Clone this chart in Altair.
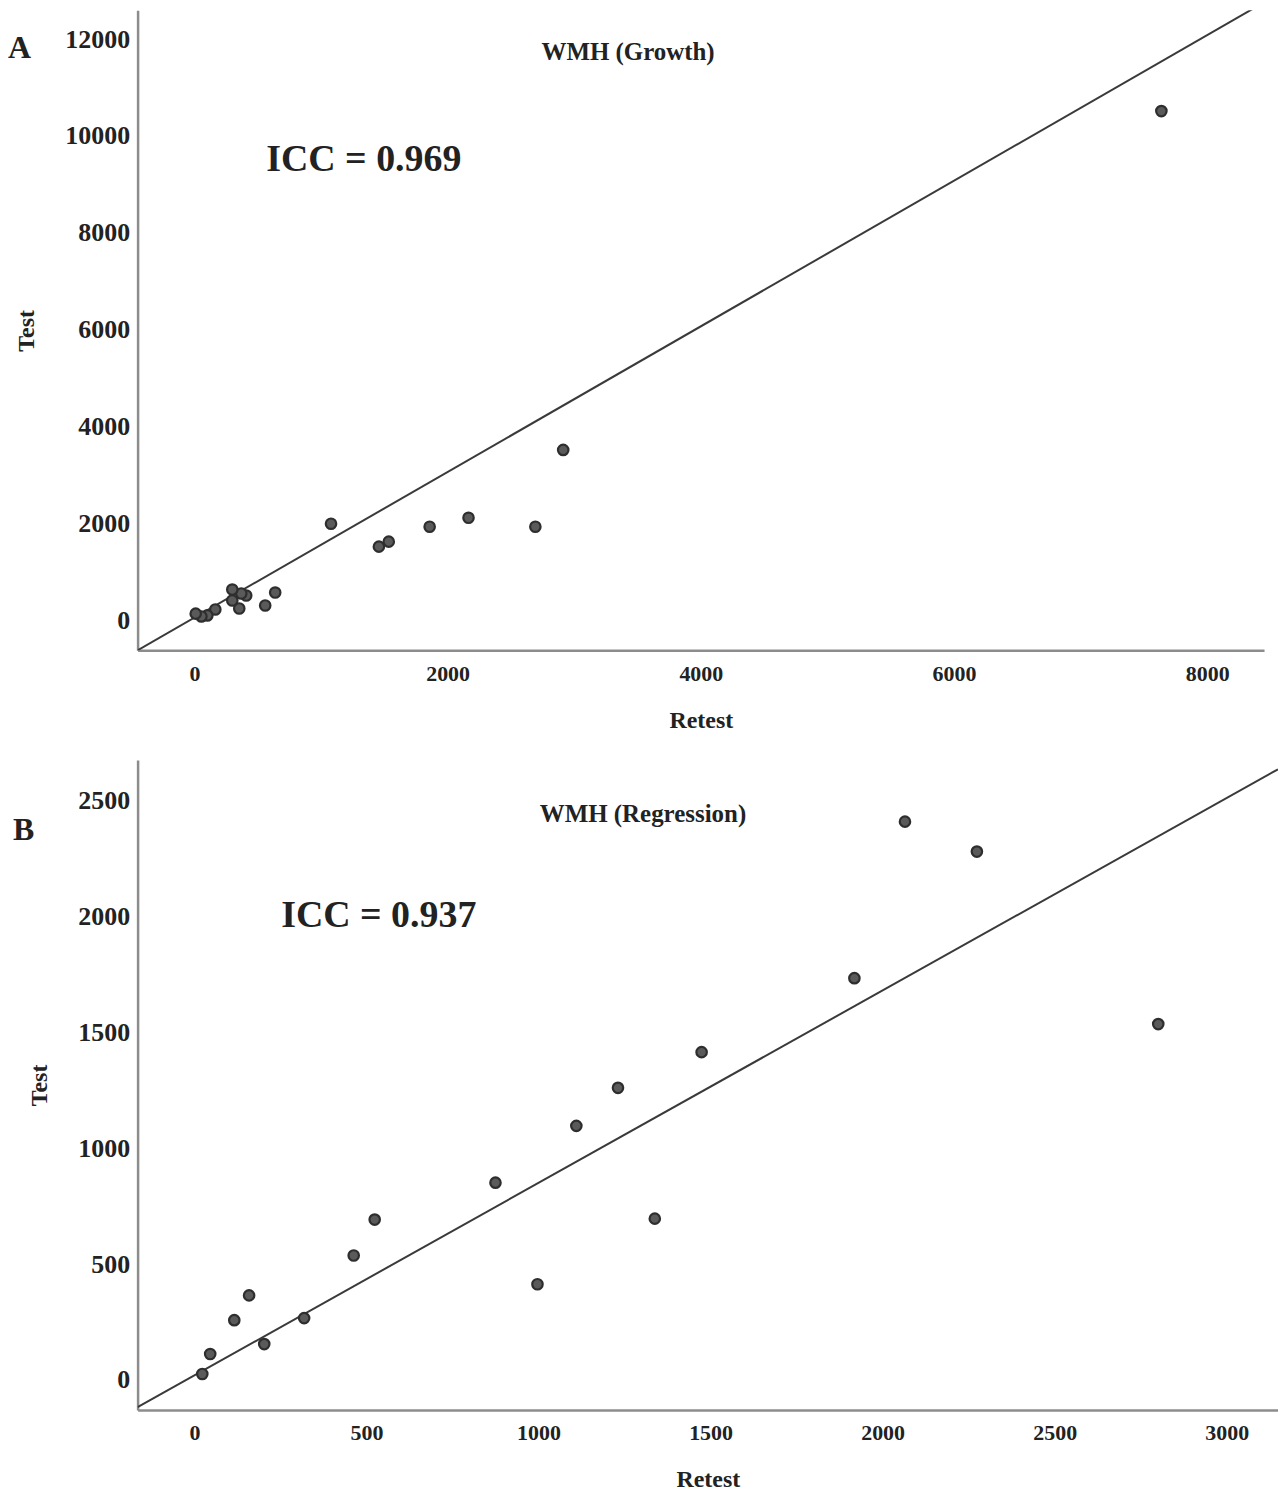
import altair as alt
import pandas as pd

# Panel A: WMH (Growth)
a_retest = [7638, 2913, 2693, 2165, 1858, 1535, 1457, 1079, 638, 559, 409, 370, 354, 299, 299, 165, 102, 55, 10]
a_test = [10514, 3519, 1934, 2119, 1934, 1626, 1523, 1996, 576, 309, 514, 556, 247, 638, 412, 226, 103, 82, 140]
a_line_x = [-449, 8449]
a_line_y = [-617, 12757]
a_xticks = [0, 2000, 4000, 6000, 8000]
a_yticks = [0, 2000, 4000, 6000, 8000, 10000, 12000]

# Panel B: WMH (Regression)
b_retest = [2065, 2274, 1918, 2801, 1474, 1231, 1110, 875, 524, 1338, 463, 997, 159, 116, 319, 203, 46, 23]
b_test = [2408, 2279, 1733, 1535, 1414, 1260, 1096, 851, 692, 696, 537, 413, 365, 258, 267, 155, 112, 26]
b_line_x = [-165, 3149]
b_line_y = [-117, 2634]
b_xticks = [0, 500, 1000, 1500, 2000, 2500, 3000]
b_yticks = [0, 500, 1000, 1500, 2000, 2500]

FONT = "Liberation Serif"
TXT = "#222222"


def panel(retest, test, lx, ly, xdom, ydom, xticks, yticks, w, h,
          letter, title, icc, letter_pos, title_pos, icc_pos):
    pts = pd.DataFrame({"Retest": retest, "Test": test})
    ln = pd.DataFrame({"Retest": lx, "Test": ly})
    xs = alt.Scale(domain=xdom, nice=False, zero=False)
    ys = alt.Scale(domain=ydom, nice=False, zero=False)
    xax = alt.Axis(values=xticks, format="d", title="Retest", labelPadding=13,
                   titlePadding=24, labelFontSize=22)
    yax = alt.Axis(values=yticks, format="d", title="Test", labelPadding=8,
                   titlePadding=26, labelFontSize=26)
    line = alt.Chart(ln).mark_line(color="#3a3a3a", strokeWidth=2, clip=True).encode(
        x=alt.X("Retest:Q", scale=xs, axis=xax),
        y=alt.Y("Test:Q", scale=ys, axis=yax),
    )
    dots = alt.Chart(pts).mark_circle(size=110, color="#5a5a5a", stroke="#2e2e2e",
                                      strokeWidth=2.2, opacity=1).encode(
        x=alt.X("Retest:Q", scale=xs),
        y=alt.Y("Test:Q", scale=ys),
    )
    base = alt.Chart(pd.DataFrame({"t": [letter]}))
    t_letter = base.mark_text(font=FONT, fontWeight="bold", fontSize=32, color=TXT,
                              align="left", baseline="middle").encode(
        text="t:N", x=alt.value(letter_pos[0]), y=alt.value(letter_pos[1]))
    t_title = alt.Chart(pd.DataFrame({"t": [title]})).mark_text(
        font=FONT, fontWeight="bold", fontSize=25, color=TXT,
        align="center", baseline="middle").encode(
        text="t:N", x=alt.value(title_pos[0]), y=alt.value(title_pos[1]))
    t_icc = alt.Chart(pd.DataFrame({"t": [icc]})).mark_text(
        font=FONT, fontWeight="bold", fontSize=38, color=TXT,
        align="left", baseline="middle").encode(
        text="t:N", x=alt.value(icc_pos[0]), y=alt.value(icc_pos[1]))
    return alt.layer(line, dots, t_letter, t_title, t_icc).properties(width=w, height=h)


pa = panel(a_retest, a_test, a_line_x, a_line_y, [-449, 8449], [-617, 12593],
           a_xticks, a_yticks, 1130, 642, "A", "WMH (Growth)", "ICC = 0.969",
           (-130, 38), (492, 42), (129, 150))
pb = panel(b_retest, b_test, b_line_x, b_line_y, [-165, 3149], [-129, 2674],
           b_xticks, b_yticks, 1144, 652, "B", "WMH (Regression)", "ICC = 0.937",
           (-125, 70), (507, 54), (144, 157))

chart = alt.vconcat(pa, pb, spacing=28).properties(padding=0).configure_view(
    stroke=None
).configure_axis(
    domainColor="#8c8c8c", domainWidth=2.5, ticks=False, grid=False,
    labelFont=FONT, labelFontWeight="bold", labelColor=TXT,
    titleFont=FONT, titleFontWeight="bold", titleFontSize=24, titleColor=TXT,
)

chart.save("out.html", embed_options={"renderer": "svg", "actions": False})
